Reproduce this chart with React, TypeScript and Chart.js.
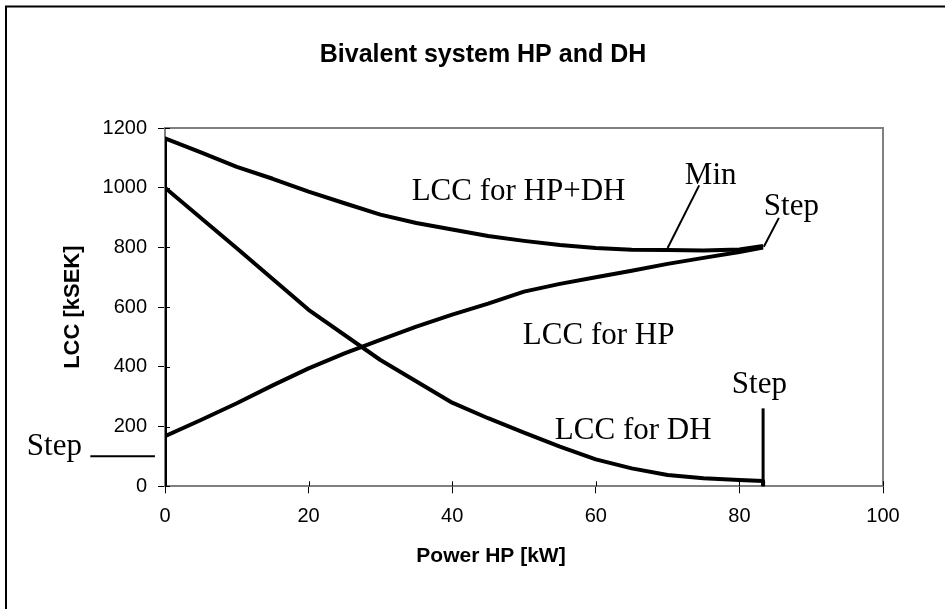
import React, { useEffect, useRef } from "react";
import { Chart, registerables } from "chart.js";

Chart.register(...registerables);

// ---- texts ----
const TITLE = "Bivalent system HP and DH";
const X_TITLE = "Power HP [kW]";
const Y_TITLE = "LCC [kSEK]";

// ---- axes ----
const X_MIN = 0;
const X_MAX = 100;
const X_STEP = 20;
const Y_MIN = 0;
const Y_MAX = 1200;
const Y_STEP = 200;

// ---- series: LCC for HP+DH ----
const sumX = [0, 0, 5, 10, 15, 20, 25, 30, 35, 40, 45, 50, 55, 60, 65, 70, 75, 80, 83.3];
const sumY = [0, 1165, 1118, 1070, 1030, 987, 948, 910, 882, 860, 838, 822, 808, 798, 792, 791, 790, 793, 805];

// ---- series: LCC for HP ----
const hpX = [0, 5, 10, 15, 20, 25, 30, 35, 40, 45, 50, 55, 60, 65, 70, 75, 80, 83.3];
const hpY = [168, 222, 278, 338, 395, 445, 490, 535, 575, 612, 652, 678, 700, 722, 745, 765, 785, 800];

// ---- series: LCC for DH ----
const dhX = [0, 10, 20, 30, 40, 45, 50, 55, 60, 65, 70, 75, 80, 83.3, 83.3];
const dhY = [1000, 797, 591, 423, 280, 228, 180, 133, 90, 60, 38, 27, 21, 18, 0];

// ---- annotation labels (data coordinates, left/baseline) ----
const labelText = ["LCC for HP+DH", "Min", "Step", "LCC for HP", "Step", "LCC for DH", "Step"];
const labelX = [34.35, 72.4, 83.4, 49.84, 78.94, 54.3, -19.25];
const labelY = [958, 1011, 908, 478, 314, 158, 105];

// ---- annotation leader lines (data coordinates) ----
const minLeaderX = [70.0, 74.4];
const minLeaderY = [798, 1008];
const stepTopX = [83.4, 85.5];
const stepTopY = [802, 899];
const stepEndX = [83.3, 83.3];
const stepEndY = [0, 261];
const stepStartX = [-10.4, -1.4];
const stepStartY = [101, 101];

const SANS = "Arial, 'Liberation Sans', sans-serif";
const SERIF = "'Times New Roman', 'Liberation Serif', serif";

const toPts = (xs: number[], ys: number[]) => xs.map((x, i) => ({ x, y: ys[i] }));

const W = 945;
const H = 609;

export default function App() {
  const ref = useRef<HTMLCanvasElement | null>(null);

  useEffect(() => {
    if (!ref.current) return;

    const curve = (label: string, xs: number[], ys: number[]) => ({
      label,
      data: toPts(xs, ys),
      showLine: true,
      borderColor: "#000",
      backgroundColor: "#000",
      borderWidth: 4,
      pointRadius: 0,
      tension: 0,
      borderJoinStyle: "round" as const,
      borderCapStyle: "butt" as const,
    });
    const leader = (label: string, xs: number[], ys: number[], w: number) => ({
      label,
      data: toPts(xs, ys),
      showLine: true,
      borderColor: "#000",
      backgroundColor: "#000",
      borderWidth: w,
      pointRadius: 0,
      tension: 0,
      clip: false as const,
    });

    const chromePlugin = {
      id: "chrome",
      beforeDraw(chart: any) {
        const { ctx } = chart;
        ctx.save();
        ctx.fillStyle = "#fff";
        ctx.fillRect(0, 0, chart.width, chart.height);
        // outer frame
        ctx.strokeStyle = "#000";
        ctx.lineWidth = 2;
        ctx.strokeRect(6, 6.5, chart.width + 20, chart.height + 20);
        // chart title
        ctx.fillStyle = "#000";
        ctx.font = `bold 25px ${SANS}`;
        ctx.textAlign = "center";
        ctx.textBaseline = "alphabetic";
        ctx.fillText(TITLE, 483, 61.5);
        // x axis title
        ctx.font = `bold 21px ${SANS}`;
        ctx.textBaseline = "middle";
        ctx.fillText(X_TITLE, 491, 556);
        ctx.restore();
      },
      beforeDatasetsDraw(chart: any) {
        const { ctx, chartArea: a, scales } = chart;
        ctx.save();
        // plot frame (top + right)
        ctx.strokeStyle = "#808080";
        ctx.lineWidth = 2;
        ctx.beginPath();
        ctx.moveTo(a.left, a.top);
        ctx.lineTo(a.right, a.top);
        ctx.lineTo(a.right, a.bottom);
        ctx.stroke();
        // inner part of cross ticks
        ctx.strokeStyle = "#000";
        ctx.lineWidth = 1;
        ctx.beginPath();
        scales.x.ticks.forEach((t: any) => {
          const px = Math.round(scales.x.getPixelForValue(t.value)) + 0.5;
          ctx.moveTo(px, a.bottom);
          ctx.lineTo(px, a.bottom - 5);
        });
        scales.y.ticks.forEach((t: any) => {
          const py = Math.round(scales.y.getPixelForValue(t.value)) + 0.5;
          ctx.moveTo(a.left, py);
          ctx.lineTo(a.left + 5, py);
        });
        ctx.stroke();
        ctx.restore();
      },
      afterDatasetsDraw(chart: any) {
        const { ctx, scales } = chart;
        ctx.save();
        ctx.fillStyle = "#000";
        ctx.font = `31px ${SERIF}`;
        ctx.textAlign = "left";
        ctx.textBaseline = "alphabetic";
        labelText.forEach((t, i) => {
          ctx.fillText(t, scales.x.getPixelForValue(labelX[i]), scales.y.getPixelForValue(labelY[i]));
        });
        ctx.restore();
      },
    };

    const chart = new Chart(ref.current, {
      type: "scatter",
      data: {
        datasets: [
          curve("LCC for HP+DH", sumX, sumY),
          curve("LCC for HP", hpX, hpY),
          curve("LCC for DH", dhX, dhY),
          leader("Min", minLeaderX, minLeaderY, 2),
          leader("Step top", stepTopX, stepTopY, 2),
          leader("Step end", stepEndX, stepEndY, 3),
          leader("Step start", stepStartX, stepStartY, 2),
        ] as any,
      },
      options: {
        animation: false,
        responsive: false,
        devicePixelRatio: 1,
        layout: { padding: { top: 128, right: 62, left: 0, bottom: 0 } },
        plugins: {
          legend: { display: false },
          title: { display: false },
          tooltip: { enabled: false },
        },
        scales: {
          x: {
            type: "linear",
            min: X_MIN,
            max: X_MAX,
            ticks: {
              stepSize: X_STEP,
              color: "#000",
              padding: 11,
              font: { family: SANS, size: 20 },
              maxRotation: 0,
              callback: (v: any) => String(v),
            },
            grid: {
              drawOnChartArea: false,
              drawTicks: true,
              tickLength: 7,
              tickColor: "#000",
              tickWidth: 1,
              lineWidth: 1,
            },
            border: { display: true, color: "#808080", width: 2 },
            title: { display: false },
            afterFit(scale: any) {
              scale.height = 122.7;
            },
          },
          y: {
            type: "linear",
            min: Y_MIN,
            max: Y_MAX,
            ticks: {
              stepSize: Y_STEP,
              color: "#000",
              padding: 11,
              font: { family: SANS, size: 20 },
              callback: (v: any) => String(v),
            },
            grid: {
              drawOnChartArea: false,
              drawTicks: true,
              tickLength: 7,
              tickColor: "#000",
              tickWidth: 1,
              lineWidth: 1,
            },
            border: { display: true, color: "#808080", width: 2 },
            title: {
              display: true,
              text: Y_TITLE,
              color: "#000",
              font: { family: SANS, size: 22, weight: "bold" },
              padding: { top: 60, bottom: 0 },
            },
            afterFit(scale: any) {
              scale.width = 165;
            },
          },
        },
      } as any,
      plugins: [chromePlugin],
    });

    return () => chart.destroy();
  }, []);

  return (
    <div style={{ position: "fixed", left: 0, top: 0, width: W, height: H, background: "#fff" }}>
      <canvas ref={ref} width={W} height={H} style={{ display: "block", width: W, height: H }} />
    </div>
  );
}
